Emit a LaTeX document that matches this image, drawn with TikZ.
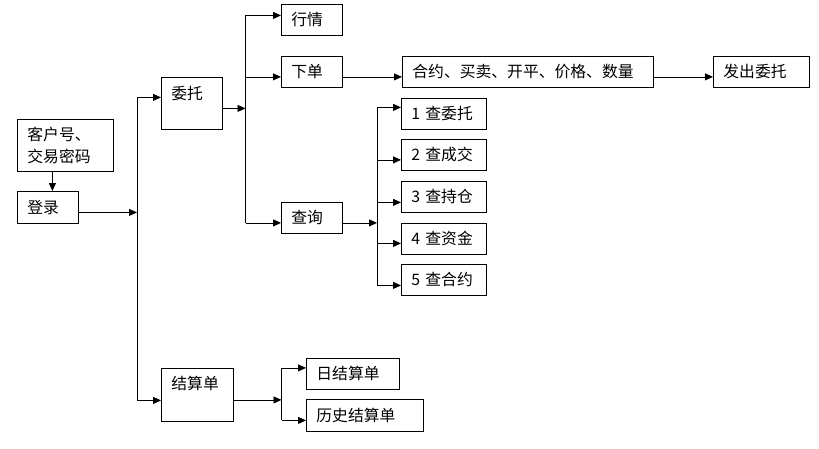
\documentclass[tikz,border=0pt]{standalone}
\usepackage{fontspec}
\newfontfamily\cjk{Noto Sans CJK SC}
\usetikzlibrary{arrows.meta}

\begin{document}
\begin{tikzpicture}[
    x=1pt, y=-1pt,
    box/.style={rectangle, draw=black, line width=0.8pt, anchor=north west, inner xsep=10pt, inner ysep=0pt, align=left, font=\cjk\fontsize{15.8}{22}\selectfont},
    arrow/.style={-{Triangle[length=8pt, width=7pt]}, line width=0.8pt}
]
\useasboundingbox (0,0) rectangle (819,448);

% login
\node[box, text width=76pt, minimum height=52pt] (account) at (17,119) {客户号、\\交易密码};
\node[box, text width=41pt, minimum height=32pt] (login) at (17,191) {登录};

% order branch
\node[box, text width=41pt, minimum height=52pt, text height=10pt, text depth=17pt] (order) at (161,77) {委托};
\node[box, text width=41pt, minimum height=31pt] (quote) at (281,4) {行情};
\node[box, text width=41pt, minimum height=31pt] (place) at (281,56) {下单};
\node[box, text width=231pt, minimum height=31pt] (fields) at (402,56) {合约、买卖、开平、价格、数量};
\node[box, text width=76pt, minimum height=31pt] (send) at (713,56) {发出委托};
\node[box, text width=41pt, minimum height=31pt] (query) at (281,202) {查询};
\node[box, text width=65pt, minimum height=31pt] (q1) at (401,98) {1 查委托};
\node[box, text width=65pt, minimum height=31pt] (q2) at (401,139) {2 查成交};
\node[box, text width=65pt, minimum height=31pt] (q3) at (401,181) {3 查持仓};
\node[box, text width=65pt, minimum height=31pt] (q4) at (401,223) {4 查资金};
\node[box, text width=65pt, minimum height=31pt] (q5) at (401,264) {5 查合约};

% settlement branch
\node[box, text width=52pt, minimum height=53pt, text height=10pt, text depth=21pt] (settle) at (161,368) {结算单};
\node[box, text width=73pt, minimum height=31pt] (daily) at (306,358) {日结算单};
\node[box, text width=97pt, minimum height=32pt] (history) at (306,399) {历史结算单};

% connector ends
\coordinate (account-out) at ([xshift=-13pt]account.south);
\foreach \n in {login, order, place, fields, query, settle}
    \coordinate (\n-out) at ([yshift=-5pt]\n.east);
\foreach \n/\s in {order/6, quote/4.5, place/-5, fields/-5, send/-5, query/-5, q1/6.5, q2/-5, q3/-5.5, q4/-4.5, q5/-5.5, settle/-5.5, daily/6, history/-5}
    \coordinate (\n-in) at ([yshift=\s pt]\n.west);
\coordinate (bus1) at (137,0);
\coordinate (bus2) at (245.5,0);
\coordinate (bus3) at (377,0);
\coordinate (bus4) at (281.5,0);

\draw[arrow] (account-out) -- (account-out |- login.north);
\draw[arrow] (login-out) -- (login-out -| bus1);
\draw[arrow] (settle-in -| bus1) |- (order-in);
\draw[arrow] (settle-in -| bus1) -- (settle-in);

\draw[arrow] (order-out) -- (order-out -| bus2);
\draw[arrow] (query-in -| bus2) |- (quote-in);
\foreach \n in {place, query}
    \draw[arrow] (\n-in -| bus2) -- (\n-in);
\draw[arrow] (place-out) -- (fields-in);
\draw[arrow] (fields-out) -- (send-in);

\draw[arrow] (query-out) -- (query-out -| bus3);
\draw[arrow] (q5-in -| bus3) |- (q1-in);
\foreach \n in {q2, q3, q4, q5}
    \draw[arrow] (\n-in -| bus3) -- (\n-in);

\draw[arrow] (settle-out) -- (settle-out -| bus4);
\draw[arrow] (history-in -| bus4) |- (daily-in);
\draw[arrow] (history-in -| bus4) -- (history-in);

\end{tikzpicture}
\end{document}
